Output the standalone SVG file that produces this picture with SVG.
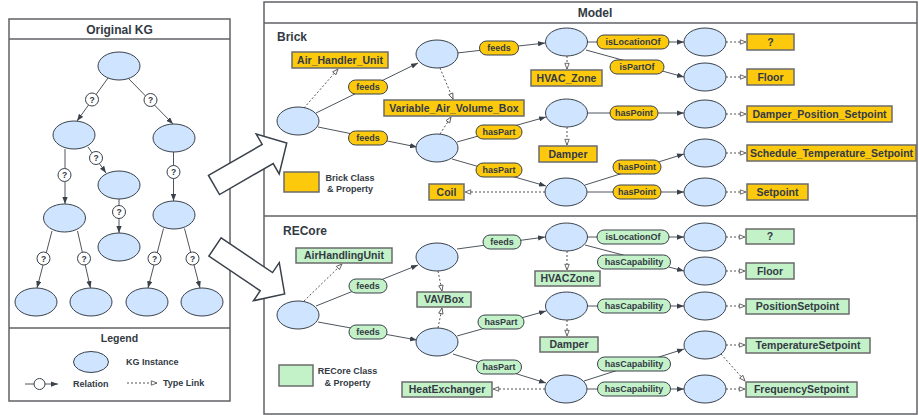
<svg xmlns="http://www.w3.org/2000/svg" width="919" height="415" viewBox="0 0 919 415">
<style>
.t{font-family:"Liberation Sans",Arial,sans-serif;font-weight:bold;fill:#333a44}
.frame{fill:#fff;stroke:#5f6266;stroke-width:1.5}
.sep{stroke:#5f6266;stroke-width:1.5}
.n{fill:#cfe4ff;stroke:#3a414a;stroke-width:1}
.e{fill:none;stroke:#4f555c;stroke-width:1;marker-end:url(#arr)}
.d{fill:none;stroke:#555;stroke-width:1;stroke-dasharray:2,2;marker-end:url(#open)}
.q{fill:#fff;stroke:#3a414a;stroke-width:1}
.yb{fill:#fcc90d;stroke:#6b6b6b;stroke-width:1.5}
.gb{fill:#c3f2c8;stroke:#6b6b6b;stroke-width:1.5}
.yp{fill:#fcc90d;stroke:#3a414a;stroke-width:1}
.gp{fill:#c3f2c8;stroke:#3a414a;stroke-width:1}
.big{fill:#fff;stroke:#3a414a;stroke-width:1.5}
.c{font-size:10.5px}
.p{font-size:9px}
</style>
<defs>
<marker id="arr" viewBox="0 0 8 6" refX="8" refY="3" markerWidth="7" markerHeight="5.5" markerUnits="userSpaceOnUse" orient="auto"><path d="M0,0 L8,3 L0,6 z" fill="#3a414a"/></marker>
<marker id="open" viewBox="0 0 8 8" refX="7.5" refY="4" markerWidth="7" markerHeight="7" markerUnits="userSpaceOnUse" orient="auto"><path d="M1,1.5 L7.5,4 L1,6.5 z" fill="#fff" stroke="#555" stroke-width="1"/></marker>
</defs>
<rect width="919" height="415" fill="#fff"/>

<g id="frames">
<rect class="frame" x="9" y="19" width="221" height="382"/>
<line class="sep" x1="9" y1="39" x2="230" y2="39"/>
<line class="sep" x1="9" y1="328" x2="230" y2="328"/>
<text class="t" x="119.5" y="33.5" font-size="12" text-anchor="middle">Original KG</text>
<text class="t" x="119.5" y="342" font-size="10.5" text-anchor="middle">Legend</text>
<rect class="frame" x="264" y="2" width="653" height="412"/>
<line class="sep" x1="264" y1="23" x2="917" y2="23"/>
<line class="sep" x1="264" y1="216" x2="917" y2="216"/>
<text class="t" x="595" y="16.5" font-size="12" text-anchor="middle">Model</text>
<text class="t" x="277" y="41" font-size="12">Brick</text>
<text class="t" x="283" y="235" font-size="12">RECore</text>
</g>

<g id="connectors">
<!-- Original KG -->
<line class="e" x1="108" y1="78" x2="77" y2="121"/>
<line class="e" x1="128" y1="78" x2="173" y2="124"/>
<line class="e" x1="65" y1="149" x2="65" y2="204"/>
<line class="e" x1="88" y1="147" x2="106" y2="173"/>
<line class="e" x1="173.5" y1="152" x2="173.5" y2="201"/>
<line class="e" x1="119" y1="199" x2="119" y2="233"/>
<line class="e" x1="52" y1="231" x2="37" y2="288"/>
<line class="e" x1="77.5" y1="231" x2="90.5" y2="288"/>
<line class="e" x1="163.5" y1="228.5" x2="148" y2="288"/>
<line class="e" x1="184.5" y1="228.5" x2="200" y2="288"/>
<g class="q">
<circle cx="92" cy="99.5" r="6.5"/><circle cx="150.5" cy="100" r="6.5"/>
<circle cx="64.5" cy="175" r="6.5"/><circle cx="96" cy="158" r="6.5"/>
<circle cx="173.5" cy="172" r="6.5"/><circle cx="119" cy="212" r="6.5"/>
<circle cx="43.5" cy="258.5" r="6.5"/><circle cx="84" cy="258.5" r="6.5"/>
<circle cx="154.5" cy="258.5" r="6.5"/><circle cx="192.5" cy="258.5" r="6.5"/>
</g>
<g class="t" font-size="8.5" text-anchor="middle">
<text x="92" y="102.5">?</text><text x="150.5" y="103">?</text>
<text x="64.5" y="178">?</text><text x="96" y="161">?</text>
<text x="173.5" y="175">?</text><text x="119" y="215">?</text>
<text x="43.5" y="261.5">?</text><text x="84" y="261.5">?</text>
<text x="154.5" y="261.5">?</text><text x="192.5" y="261.5">?</text>
</g>
<!-- legend -->
<line class="e" x1="25" y1="384" x2="58" y2="384"/>
<circle class="q" cx="39.5" cy="384" r="5.5"/>
<line class="d" x1="127" y1="383" x2="157" y2="383"/>

<!-- Brick relations -->
<line class="e" x1="316" y1="113" x2="418" y2="63"/>
<line class="e" x1="318" y1="127" x2="417" y2="147"/>
<line class="e" x1="457" y1="53" x2="545" y2="43"/>
<line class="e" x1="587" y1="42" x2="684" y2="42"/>
<line class="e" x1="586" y1="50" x2="684" y2="77"/>
<line class="e" x1="588" y1="113" x2="684" y2="113"/>
<line class="e" x1="457" y1="142" x2="546" y2="117"/>
<line class="e" x1="452" y1="159" x2="546" y2="186"/>
<line class="e" x1="585" y1="185" x2="684" y2="154"/>
<line class="e" x1="587" y1="192" x2="684" y2="192"/>
<!-- Brick type links -->
<line class="d" x1="304" y1="108" x2="338" y2="69"/>
<line class="d" x1="440" y1="68" x2="453" y2="99"/>
<line class="d" x1="440" y1="134" x2="451" y2="117"/>
<line class="d" x1="567" y1="56" x2="567" y2="69"/>
<line class="d" x1="567" y1="127" x2="567" y2="145"/>
<line class="d" x1="545" y1="192" x2="465" y2="192"/>
<line class="d" x1="726" y1="42" x2="746" y2="42"/>
<line class="d" x1="726" y1="77" x2="746" y2="77"/>
<line class="d" x1="726" y1="114" x2="746" y2="114"/>
<line class="d" x1="726" y1="153" x2="746" y2="153"/>
<line class="d" x1="726" y1="192" x2="746" y2="192"/>

<!-- RECore relations -->
<line class="e" x1="316" y1="306" x2="418" y2="265"/>
<line class="e" x1="318" y1="322" x2="417" y2="340"/>
<line class="e" x1="457" y1="249" x2="545" y2="237"/>
<line class="e" x1="588" y1="237" x2="684" y2="237"/>
<line class="e" x1="585" y1="245" x2="684" y2="271"/>
<line class="e" x1="588" y1="306" x2="684" y2="306"/>
<line class="e" x1="457" y1="336" x2="546" y2="311"/>
<line class="e" x1="453" y1="354" x2="546" y2="383"/>
<line class="e" x1="584" y1="381" x2="684" y2="349"/>
<line class="e" x1="587" y1="389" x2="684" y2="389"/>
<!-- RECore type links -->
<line class="d" x1="304" y1="301" x2="342" y2="264"/>
<line class="d" x1="438" y1="271" x2="442" y2="291"/>
<line class="d" x1="438" y1="328" x2="442" y2="308"/>
<line class="d" x1="567" y1="251" x2="567" y2="270"/>
<line class="d" x1="567" y1="320" x2="567" y2="336"/>
<line class="d" x1="545" y1="389" x2="493" y2="389"/>
<line class="d" x1="726" y1="237" x2="745" y2="237"/>
<line class="d" x1="726" y1="271" x2="745" y2="271"/>
<line class="d" x1="726" y1="306" x2="745" y2="306"/>
<line class="d" x1="726" y1="345" x2="745" y2="345"/>
<line class="d" x1="726" y1="389" x2="745" y2="389"/>
<line class="d" x1="721" y1="354" x2="745" y2="381"/>

<!-- Brick labels -->
<g>
<rect class="yp" x="348.5" y="80" width="39" height="14" rx="7"/>
<rect class="yp" x="348.5" y="131" width="39" height="14" rx="7"/>
<rect class="yp" x="479.5" y="41" width="39" height="14" rx="7"/>
<rect class="yp" x="476" y="125" width="46" height="14" rx="7"/>
<rect class="yp" x="476" y="163" width="46" height="14" rx="7"/>
<rect class="yp" x="597" y="35" width="72" height="14" rx="7"/>
<rect class="yp" x="610" y="60" width="54" height="14" rx="7"/>
<rect class="yp" x="610" y="106" width="48" height="14" rx="7"/>
<rect class="yp" x="613" y="160" width="48" height="14" rx="7"/>
<rect class="yp" x="613" y="185" width="48" height="14" rx="7"/>
<g class="t p" text-anchor="middle">
<text x="368" y="90.2">feeds</text>
<text x="368" y="141.2">feeds</text>
<text x="499" y="51.2">feeds</text>
<text x="499" y="135.2">hasPart</text>
<text x="499" y="173.2">hasPart</text>
<text x="633" y="45.2">isLocationOf</text>
<text x="637" y="70.2">isPartOf</text>
<text x="634" y="116.2">hasPoint</text>
<text x="637" y="170.2">hasPoint</text>
<text x="637" y="195.2">hasPoint</text>
</g>
</g>
<!-- RECore labels -->
<g>
<rect class="gp" x="349" y="279" width="38" height="14" rx="7"/>
<rect class="gp" x="349" y="325" width="38" height="14" rx="7"/>
<rect class="gp" x="483" y="235" width="38" height="14" rx="7"/>
<rect class="gp" x="478" y="315" width="46" height="14" rx="7"/>
<rect class="gp" x="476.5" y="360" width="45" height="14" rx="7"/>
<rect class="gp" x="597" y="230" width="72" height="14" rx="7"/>
<rect class="gp" x="597.5" y="255" width="73" height="14" rx="7"/>
<rect class="gp" x="597.5" y="299" width="73" height="14" rx="7"/>
<rect class="gp" x="597.5" y="357" width="73" height="14" rx="7"/>
<rect class="gp" x="597.5" y="382" width="73" height="14" rx="7"/>
<g class="t p" text-anchor="middle">
<text x="368" y="289.2">feeds</text>
<text x="368" y="335.2">feeds</text>
<text x="502" y="245.2">feeds</text>
<text x="501" y="325.2">hasPart</text>
<text x="499" y="370.2">hasPart</text>
<text x="633" y="240.2">isLocationOf</text>
<text x="634" y="265.2">hasCapability</text>
<text x="634" y="309.2">hasCapability</text>
<text x="634" y="367.2">hasCapability</text>
<text x="634" y="392.2">hasCapability</text>
</g>
</g>
</g>

<!-- Original KG nodes -->
<g id="kg1"><ellipse class="n" cx="119" cy="66" rx="21" ry="14"/></g>
<g id="kg2"><ellipse class="n" cx="74" cy="135" rx="21" ry="14"/></g>
<g id="kg3"><ellipse class="n" cx="174" cy="138" rx="21" ry="14"/></g>
<g id="kg4"><ellipse class="n" cx="64.5" cy="218" rx="21" ry="14"/></g>
<g id="kg5"><ellipse class="n" cx="119" cy="185" rx="21" ry="14"/></g>
<g id="kg6"><ellipse class="n" cx="174" cy="215" rx="21" ry="14"/></g>
<g id="kg7"><ellipse class="n" cx="119" cy="247" rx="21" ry="14"/></g>
<g id="kg8"><ellipse class="n" cx="36" cy="302" rx="21" ry="14"/></g>
<g id="kg9"><ellipse class="n" cx="91" cy="302" rx="21" ry="14"/></g>
<g id="kg10"><ellipse class="n" cx="147" cy="302" rx="21" ry="14"/></g>
<g id="kg11"><ellipse class="n" cx="202" cy="302" rx="21" ry="14"/></g>

<!-- Legend -->
<g id="legend-instance"><ellipse class="n" cx="91" cy="362" rx="17.5" ry="10.5"/><text class="t" x="126" y="365.2" font-size="9">KG Instance</text></g>
<g id="legend-relation"><text class="t" x="73" y="387.2" font-size="9">Relation</text></g>
<g id="legend-typelink"><text class="t" x="163" y="386.2" font-size="9">Type Link</text></g>

<!-- Brick instances -->
<g id="b-ahu"><ellipse class="n" cx="298" cy="121" rx="21" ry="14"/></g>
<g id="b-vav1"><ellipse class="n" cx="437" cy="54" rx="21" ry="14"/></g>
<g id="b-vav2"><ellipse class="n" cx="437" cy="148" rx="21" ry="14"/></g>
<g id="b-zone"><ellipse class="n" cx="566.5" cy="42" rx="21" ry="14"/></g>
<g id="b-damper"><ellipse class="n" cx="566.5" cy="113" rx="21" ry="14"/></g>
<g id="b-coil"><ellipse class="n" cx="566" cy="192" rx="21" ry="14"/></g>
<g id="b-r1"><ellipse class="n" cx="705" cy="42" rx="21" ry="14"/></g>
<g id="b-r2"><ellipse class="n" cx="705" cy="77" rx="21" ry="14"/></g>
<g id="b-r3"><ellipse class="n" cx="705" cy="114" rx="21" ry="14"/></g>
<g id="b-r4"><ellipse class="n" cx="705" cy="153" rx="21" ry="14"/></g>
<g id="b-r5"><ellipse class="n" cx="705" cy="192" rx="21" ry="14"/></g>

<!-- Brick classes -->
<g id="bc-ahu"><rect class="yb" x="292" y="52" width="96" height="16"/><text class="t c" x="340" y="63.8" text-anchor="middle">Air_Handler_Unit</text></g>
<g id="bc-vav"><rect class="yb" x="384" y="100" width="140" height="16"/><text class="t c" x="454" y="111.8" text-anchor="middle">Variable_Air_Volume_Box</text></g>
<g id="bc-zone"><rect class="yb" x="531" y="70" width="71" height="16"/><text class="t c" x="566.5" y="81.8" text-anchor="middle">HVAC_Zone</text></g>
<g id="bc-damper"><rect class="yb" x="539" y="146" width="58" height="16"/><text class="t c" x="568" y="157.8" text-anchor="middle">Damper</text></g>
<g id="bc-coil"><rect class="yb" x="429" y="184" width="35" height="16"/><text class="t c" x="446.5" y="195.8" text-anchor="middle">Coil</text></g>
<g id="bc-q"><rect class="yb" x="747" y="34" width="47" height="16"/><text class="t c" x="770.5" y="45.8" text-anchor="middle">?</text></g>
<g id="bc-floor"><rect class="yb" x="747" y="69" width="47" height="16"/><text class="t c" x="770.5" y="80.8" text-anchor="middle">Floor</text></g>
<g id="bc-dps"><rect class="yb" x="747" y="106" width="145" height="16"/><text class="t c" x="819.5" y="117.8" text-anchor="middle">Damper_Position_Setpoint</text></g>
<g id="bc-sts"><rect class="yb" x="747" y="145" width="169" height="16"/><text class="t c" x="831.5" y="156.8" text-anchor="middle">Schedule_Temperature_Setpoint</text></g>
<g id="bc-sp"><rect class="yb" x="747" y="184" width="61" height="16"/><text class="t c" x="777.5" y="195.8" text-anchor="middle">Setpoint</text></g>
<g id="brick-legend"><rect class="yb" x="284" y="172" width="35" height="20"/><text class="t" x="350" y="180.5" font-size="9" text-anchor="middle">Brick Class</text><text class="t" x="350" y="191.5" font-size="9" text-anchor="middle">&amp; Property</text></g>

<!-- RECore instances -->
<g id="r-ahu"><ellipse class="n" cx="298" cy="315" rx="21" ry="14"/></g>
<g id="r-vav1"><ellipse class="n" cx="437" cy="257" rx="21" ry="14"/></g>
<g id="r-vav2"><ellipse class="n" cx="437" cy="342" rx="21" ry="14"/></g>
<g id="r-zone"><ellipse class="n" cx="566.5" cy="237" rx="21" ry="14"/></g>
<g id="r-damper"><ellipse class="n" cx="566.5" cy="306" rx="21" ry="14"/></g>
<g id="r-he"><ellipse class="n" cx="566" cy="389" rx="21" ry="14"/></g>
<g id="r-r1"><ellipse class="n" cx="705" cy="237" rx="21" ry="14"/></g>
<g id="r-r2"><ellipse class="n" cx="705" cy="271" rx="21" ry="14"/></g>
<g id="r-r3"><ellipse class="n" cx="705" cy="306" rx="21" ry="14"/></g>
<g id="r-r4"><ellipse class="n" cx="705" cy="345" rx="21" ry="14"/></g>
<g id="r-r5"><ellipse class="n" cx="705" cy="389" rx="21" ry="14"/></g>

<!-- RECore classes -->
<g id="rc-ahu"><rect class="gb" x="296" y="248" width="96" height="15"/><text class="t c" x="344" y="259.3" text-anchor="middle">AirHandlingUnit</text></g>
<g id="rc-vav"><rect class="gb" x="417" y="292" width="54" height="15"/><text class="t c" x="444" y="303.3" text-anchor="middle">VAVBox</text></g>
<g id="rc-zone"><rect class="gb" x="535" y="271" width="65" height="15"/><text class="t c" x="567.5" y="282.3" text-anchor="middle">HVACZone</text></g>
<g id="rc-damper"><rect class="gb" x="540" y="337" width="58" height="15"/><text class="t c" x="569" y="348.3" text-anchor="middle">Damper</text></g>
<g id="rc-he"><rect class="gb" x="402" y="382" width="90" height="15"/><text class="t c" x="447" y="393.3" text-anchor="middle">HeatExchanger</text></g>
<g id="rc-q"><rect class="gb" x="746" y="229" width="48" height="15"/><text class="t c" x="770" y="240.3" text-anchor="middle">?</text></g>
<g id="rc-floor"><rect class="gb" x="746" y="263" width="48" height="16"/><text class="t c" x="770" y="274.8" text-anchor="middle">Floor</text></g>
<g id="rc-ps"><rect class="gb" x="746" y="299" width="103" height="15"/><text class="t c" x="797.5" y="310.3" text-anchor="middle">PositionSetpoint</text></g>
<g id="rc-ts"><rect class="gb" x="746" y="338" width="124" height="15"/><text class="t c" x="808" y="349.3" text-anchor="middle">TemperatureSetpoint</text></g>
<g id="rc-fs"><rect class="gb" x="746" y="382" width="111" height="15"/><text class="t c" x="801.5" y="393.3" text-anchor="middle">FrequencySetpoint</text></g>
<g id="recore-legend"><rect class="gb" x="279" y="365" width="34" height="21"/><text class="t" x="347.5" y="374.2" font-size="9" text-anchor="middle">RECore Class</text><text class="t" x="347.5" y="385.5" font-size="9" text-anchor="middle">&amp; Property</text></g>

<!-- block arrows -->
<g id="arrow-brick"><polygon class="big" points="0,-11 62,-11 62,-23 84,0 62,23 62,11 0,11" transform="translate(214,185) rotate(-30)"/></g>
<g id="arrow-recore"><polygon class="big" points="0,-11 62,-11 62,-23 84,0 62,23 62,11 0,11" transform="translate(215,247) rotate(34)"/></g>
</svg>
